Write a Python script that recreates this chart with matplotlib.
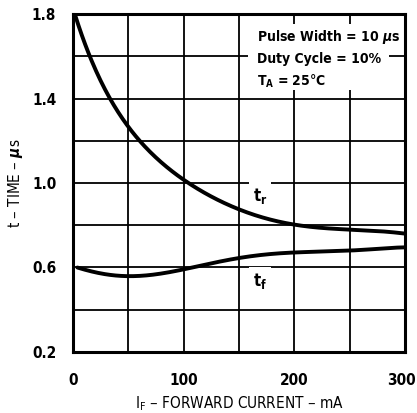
import matplotlib
matplotlib.use("Agg")
import matplotlib.pyplot as plt
import matplotlib.transforms as mtransforms
from matplotlib.patches import Rectangle
import numpy as np

# ---- data ----
i_rise = [2, 12, 25, 50, 75, 100, 150, 200, 250, 300]
t_rise = [1.80, 1.63, 1.49, 1.27, 1.12, 1.01, 0.88, 0.80, 0.78, 0.76]

i_fall = [4, 25, 50, 75, 100, 123, 150, 200, 250, 300]
t_fall = [0.60, 0.57, 0.56, 0.57, 0.585, 0.62, 0.645, 0.67, 0.68, 0.695]

x_ticks = [0, 100, 200, 300]
y_ticks = [0.2, 0.6, 1.0, 1.4, 1.8]
conditions = ["Pulse Width = 10 $\\mu$s", "Duty Cycle = 10%", "T$_\\mathregular{A}$ = 25°C"]

plt.rcParams['font.family'] = ['DejaVu Sans']
plt.rcParams['font.stretch'] = 'condensed'
plt.rcParams['font.weight'] = 'bold'
plt.rcParams['mathtext.fontset'] = 'dejavusans'

fig = plt.figure(figsize=(4.17, 4.13), dpi=100)
ax = fig.add_axes([0.175, 0.148, 0.796, 0.818])

# smooth curves through the read points
def smooth(x, y):
    xs = np.linspace(x[0], x[-1], 300)
    c = np.polyfit(x, y, 6)
    return xs, np.polyval(c, xs)

xr, yr = smooth(i_rise, t_rise)
xf, yf = smooth(i_fall, t_fall)
ax.plot(xr, yr, color='black', lw=2.8, solid_capstyle='round', zorder=3)
ax.plot(xf, yf, color='black', lw=2.8, solid_capstyle='round', zorder=3)

ax.set_xlim(0, 300)
ax.set_ylim(0.2, 1.8)
ax.set_xticks(np.arange(0, 301, 50))
ax.set_yticks(np.arange(0.2, 1.81, 0.2))
ax.grid(True, color='black', lw=1.3)
ax.set_axisbelow(True)
ax.set_xticklabels([str(v) if v in x_ticks else '' for v in range(0, 301, 50)])
ax.set_yticklabels([f"{v:.1f}" if any(abs(v - t) < 1e-6 for t in y_ticks) else ''
                    for v in np.arange(0.2, 1.81, 0.2)])
ax.tick_params(length=0, labelsize=11)
ax.tick_params(axis='x', pad=15)
ax.tick_params(axis='y', pad=12)
for s in ax.spines.values():
    s.set_linewidth(2.2)

# last x label sits against the right edge, like the original
last = ax.get_xticklabels()[-1]
last.set_horizontalalignment('right')
last.set_transform(last.get_transform() + mtransforms.ScaledTranslation(0.11, 0, fig.dpi_scale_trans))

# white patch behind the test conditions (grid shows only as stubs)
ax.add_patch(Rectangle((158, 1.44), 128, 0.315, facecolor='white', edgecolor='none', zorder=2))
ax.text(166, 1.69, conditions[0], fontsize=10, ha='left', va='center', zorder=4)
ax.text(166, 1.585, conditions[1], fontsize=10, ha='left', va='center', zorder=4)
ax.text(166, 1.48, conditions[2], fontsize=10, ha='left', va='center', zorder=4)

# curve labels with white gaps in the grid
ax.text(169, 0.94, "t$_\\mathregular{r}$", fontsize=12, ha='center', va='center',
        bbox=dict(facecolor='white', edgecolor='none', pad=3), zorder=4)
ax.text(169, 0.535, "t$_\\mathregular{f}$", fontsize=12, ha='center', va='center',
        bbox=dict(facecolor='white', edgecolor='none', pad=3), zorder=4)

ax.set_xlabel("I$_\\mathregular{F}$ – FORWARD CURRENT – mA", fontsize=11, labelpad=5)
ax.set_ylabel("t – TIME – $\\mu$s", fontsize=11, labelpad=5)

fig.savefig("out.png", dpi=100)
